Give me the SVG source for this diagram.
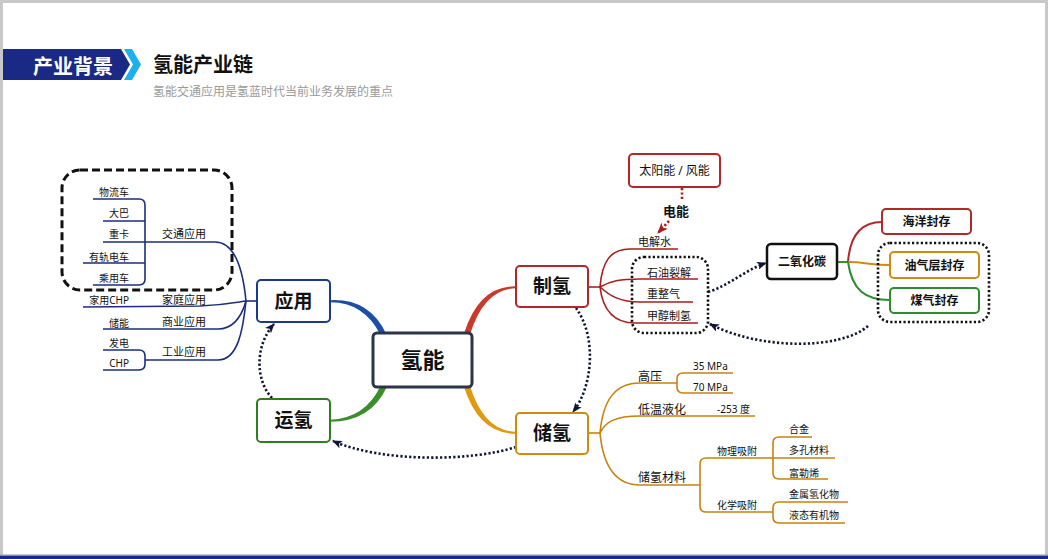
<svg xmlns="http://www.w3.org/2000/svg" width="1048" height="559" viewBox="0 0 1048 559">
<defs>
<style>
text{font-family:"Noto Sans","Noto Sans CJK SC",sans-serif;fill:#111}
.cj{font-family:"Noto Sans CJK SC",sans-serif}
.b{font-weight:700}
.node{fill:#fff;stroke-width:2}
.dot{fill:none;stroke:#0e1633;stroke-width:2.6;stroke-dasharray:2.2 2.2}
.box{fill:none;stroke:#111;stroke-width:2.6;stroke-dasharray:2.2 2.2}
.nv{fill:none;stroke:#1b2f7e;stroke-width:1.6}
.rd{fill:none;stroke:#a81e1e;stroke-width:1.6}
.or{fill:none;stroke:#c8820c;stroke-width:1.6}
.s10{font-size:10px}
.s11{font-size:11px}
.s12{font-size:12px}
</style>
<marker id="ah" viewBox="0 0 10 8" refX="9" refY="4" markerWidth="10" markerHeight="8" markerUnits="userSpaceOnUse" orient="auto">
<path d="M0,0 L10,4 L0,8 L2.5,4 Z" fill="#0e1633"/>
</marker>
<marker id="ahr" viewBox="0 0 10 8" refX="9" refY="4" markerWidth="11" markerHeight="9" markerUnits="userSpaceOnUse" orient="auto">
<path d="M0,0 L10,4 L0,8 L2.5,4 Z" fill="#a81e1e"/>
</marker>
</defs>

<rect x="0" y="0" width="1048" height="559" fill="#fff"/>
<path d="M1.5,559 V1.5 H1046.5 V559" fill="none" stroke="#c8c8c8" stroke-width="3"/>
<rect x="0" y="554.5" width="1048" height="1.5" fill="#8a90aa"/>
<rect x="0" y="556" width="1048" height="3" fill="#1a2a84"/>

<g id="header">
<path d="M3,49 H121 L130,64.5 L121,80 H3 Z" fill="#1a2a84"/>
<path d="M124,49 H132 L141,64.5 L132,80 H124 L133,64.5 Z" fill="#1cb0ec"/>
<text x="73" y="74" class="cj b" font-size="20" text-anchor="middle" style="fill:#fff">产业背景</text>
<text x="153" y="72" class="cj b" font-size="20">氢能产业链</text>
<text x="153" y="96" class="cj" font-size="12" style="fill:#9a9a9a">氢能交通应用是氢蓝时代当前业务发展的重点</text>
</g>

<g id="connectors">
<path d="M330,300.2 Q369,298 386,333.5 L380.5,335 Q364,302 330,302.2 Z" fill="#1d4ea6"/>
<path d="M330,419.8 Q365,418.5 380.5,386 L386.5,387.5 Q371,421.5 330,421.8 Z" fill="#3a8f2a"/>
<path d="M516,286.2 Q479,285.5 464,333.5 L470,334.5 Q484,289 516,288.2 Z" fill="#c93a2a"/>
<path d="M516,431.8 Q484,431 470,386 L464,387 Q479,434 516,433.8 Z" fill="#e09a12"/>

<path class="dot" d="M576,308 C596,335 594,385 573,412" marker-end="url(#ah)"/>
<path class="dot" d="M516,447 C470,462 380,462 333,441" marker-end="url(#ah)"/>
<path class="dot" d="M272,398 C255,380 255,345 274,324" marker-end="url(#ah)"/>
<path class="dot" d="M708,292 C730,285 745,270 766,263" marker-end="url(#ah)"/>
<path class="dot" d="M868,326 C840,350 760,350 710,324" marker-end="url(#ah)"/>
<path d="M682,188 V201" fill="none" stroke="#a81e1e" stroke-width="2.6" stroke-dasharray="2.2 2.2"/>
<path d="M669,221 L658,233" fill="none" stroke="#a81e1e" stroke-width="2.6" stroke-dasharray="2.2 2.2" marker-end="url(#ahr)"/>

<!-- 应用 branches -->
<path class="nv" d="M246,301 H257"/>
<path class="nv" d="M145,242 H215 C235,242 243,270 246,301"/>
<path class="nv" d="M83,307 L200,306 C225,305 238,302 246,301"/>
<path class="nv" d="M103,329 H218 C235,329 242,315 246,301"/>
<path class="nv" d="M145,360 H218 C238,360 243,330 246,301"/>
<path class="nv" d="M93,199 H139 Q145,199 145,205 V279 Q145,285 139,285 H93"/>
<path class="nv" d="M103,221 H145 M103,242 H145 M83,263 H145"/>
<path class="nv" d="M103,350 H139 Q145,350 145,356 V364 Q145,370 139,370 H103"/>

<!-- 制氢 branches -->
<path class="rd" d="M588,287 H600"/>
<path class="rd" d="M600,287 C602,262 610,249 630,249 H678"/>
<path class="rd" d="M600,287 C610,281 620,279 640,279 H698"/>
<path class="rd" d="M600,287 C610,296 620,302 640,302 H693"/>
<path class="rd" d="M600,287 C603,312 615,323 635,323 H698"/>

<!-- CO2 branches -->
<path d="M837,262 H848" fill="none" stroke="#3a8f2a" stroke-width="2"/>
<path d="M848,262 C850,235 862,222 882,222" fill="none" stroke="#b0282a" stroke-width="2"/>
<path d="M848,262 C865,262 870,265 890,265" fill="none" stroke="#d08a10" stroke-width="2"/>
<path d="M848,262 C852,290 865,300 890,300" fill="none" stroke="#2e8b2e" stroke-width="2"/>

<!-- 储氢 branches -->
<path class="or" d="M588,433 H600"/>
<path class="or" d="M600,433 C603,400 615,383 640,383 H677"/>
<path class="or" d="M600,433 C605,422 615,416 640,416 H755"/>
<path class="or" d="M600,433 C603,465 615,485 640,485 H700"/>
<path class="or" d="M733,373 H683 Q677,373 677,379 V387 Q677,393 683,393 H733"/>
<path class="or" d="M773,458 H706 Q700,458 700,464 V506 Q700,512 706,512 H773"/>
<path class="or" d="M812,437 H779 Q773,437 773,443 V473 Q773,479 779,479 H828"/>
<path class="or" d="M773,458 H835"/>
<path class="or" d="M848,502 H779 Q773,502 773,508 V517 Q773,523 779,523 H845"/>
</g>

<g id="box-transport"><rect x="62" y="170" width="170" height="120" rx="18" fill="none" stroke="#111" stroke-width="3" stroke-dasharray="8 4"/></g>
<g id="box-fossil"><rect x="632" y="257" width="76" height="76" rx="12" class="box"/></g>
<g id="box-storage"><rect x="878" y="243" width="111" height="79" rx="12" class="box"/></g>

<g id="n-center"><rect x="373" y="333" width="99" height="54" rx="4" class="node" style="stroke:#2b3448;stroke-width:3"/><text x="422.5" y="368" class="cj b" font-size="22" text-anchor="middle">氢能</text></g>
<g id="n-app"><rect x="257" y="280" width="73" height="42" rx="4" class="node" style="stroke:#1b3a8c"/><text x="293.5" y="307.5" class="cj b" font-size="19" text-anchor="middle">应用</text></g>
<g id="n-trans"><rect x="257" y="399" width="73" height="43" rx="4" class="node" style="stroke:#2e7d1f"/><text x="293.5" y="427" class="cj b" font-size="19" text-anchor="middle">运氢</text></g>
<g id="n-prod"><rect x="516" y="266" width="72" height="41" rx="4" class="node" style="stroke:#b0282a"/><text x="552" y="293" class="cj b" font-size="19" text-anchor="middle">制氢</text></g>
<g id="n-store"><rect x="516" y="413" width="72" height="41" rx="4" class="node" style="stroke:#d08a10"/><text x="552" y="440" class="cj b" font-size="19" text-anchor="middle">储氢</text></g>
<g id="n-solar"><rect x="629" y="154" width="91" height="33" rx="4" class="node" style="stroke:#b0282a"/><text x="674.5" y="175" class="s12" text-anchor="middle">太阳能 / 风能</text></g>
<g id="l-power"><text x="676" y="215.5" class="cj b" font-size="13" text-anchor="middle">电能</text></g>
<g id="n-co2"><rect x="767" y="244" width="70" height="35" rx="4" class="node" style="stroke:#111;stroke-width:2.5"/><text x="802" y="266" class="cj b s12" text-anchor="middle">二氧化碳</text></g>
<g id="n-ocean"><rect x="882" y="209" width="89" height="25" rx="4" class="node" style="stroke:#b0282a"/><text x="926.5" y="226" class="cj b s12" text-anchor="middle">海洋封存</text></g>
<g id="n-oil"><rect x="890" y="252" width="89" height="26" rx="4" class="node" style="stroke:#d08a10"/><text x="934.5" y="269.5" class="cj b s12" text-anchor="middle">油气层封存</text></g>
<g id="n-coal"><rect x="890" y="288" width="89" height="25" rx="4" class="node" style="stroke:#2e8b2e"/><text x="934.5" y="305" class="cj b s12" text-anchor="middle">煤气封存</text></g>

<g id="app-labels">
<text x="129" y="195.5" class="s10" text-anchor="end">物流车</text>
<text x="129" y="217" class="s10" text-anchor="end">大巴</text>
<text x="129" y="238" class="s10" text-anchor="end">重卡</text>
<text x="129" y="260.5" class="s10" text-anchor="end">有轨电车</text>
<text x="129" y="281.5" class="s10" text-anchor="end">乘用车</text>
<text x="129" y="303.5" class="s10" text-anchor="end">家用CHP</text>
<text x="129" y="326.5" class="s10" text-anchor="end">储能</text>
<text x="129" y="346.5" class="s10" text-anchor="end">发电</text>
<text x="129" y="366.5" class="s10" text-anchor="end">CHP</text>
<text x="162" y="238" class="s11">交通应用</text>
<text x="162" y="304" class="s11">家庭应用</text>
<text x="162" y="326" class="s11">商业应用</text>
<text x="162" y="356" class="s11">工业应用</text>
</g>

<g id="prod-labels">
<text x="638" y="246" class="s11">电解水</text>
<text x="647" y="277" class="s11">石油裂解</text>
<text x="647" y="298" class="s11">重整气</text>
<text x="647" y="320" class="s11">甲醇制氢</text>
</g>

<g id="store-labels">
<text x="638" y="380.5" class="s12">高压</text>
<text x="638" y="413.5" class="s12">低温液化</text>
<text x="638" y="481.5" class="s12">储氢材料</text>
<text x="693" y="369.5" class="s10">35 MPa</text>
<text x="693" y="390.5" class="s10">70 MPa</text>
<text x="717" y="412.5" class="s10">-253 度</text>
<text x="717" y="454.5" class="s10">物理吸附</text>
<text x="717" y="508.5" class="s10">化学吸附</text>
<text x="789" y="432.5" class="s10">合金</text>
<text x="789" y="453.5" class="s10">多孔材料</text>
<text x="789" y="476.5" class="s10">富勒烯</text>
<text x="789" y="497.5" class="s10">金属氢化物</text>
<text x="789" y="518.5" class="s10">液态有机物</text>
</g>
</svg>
